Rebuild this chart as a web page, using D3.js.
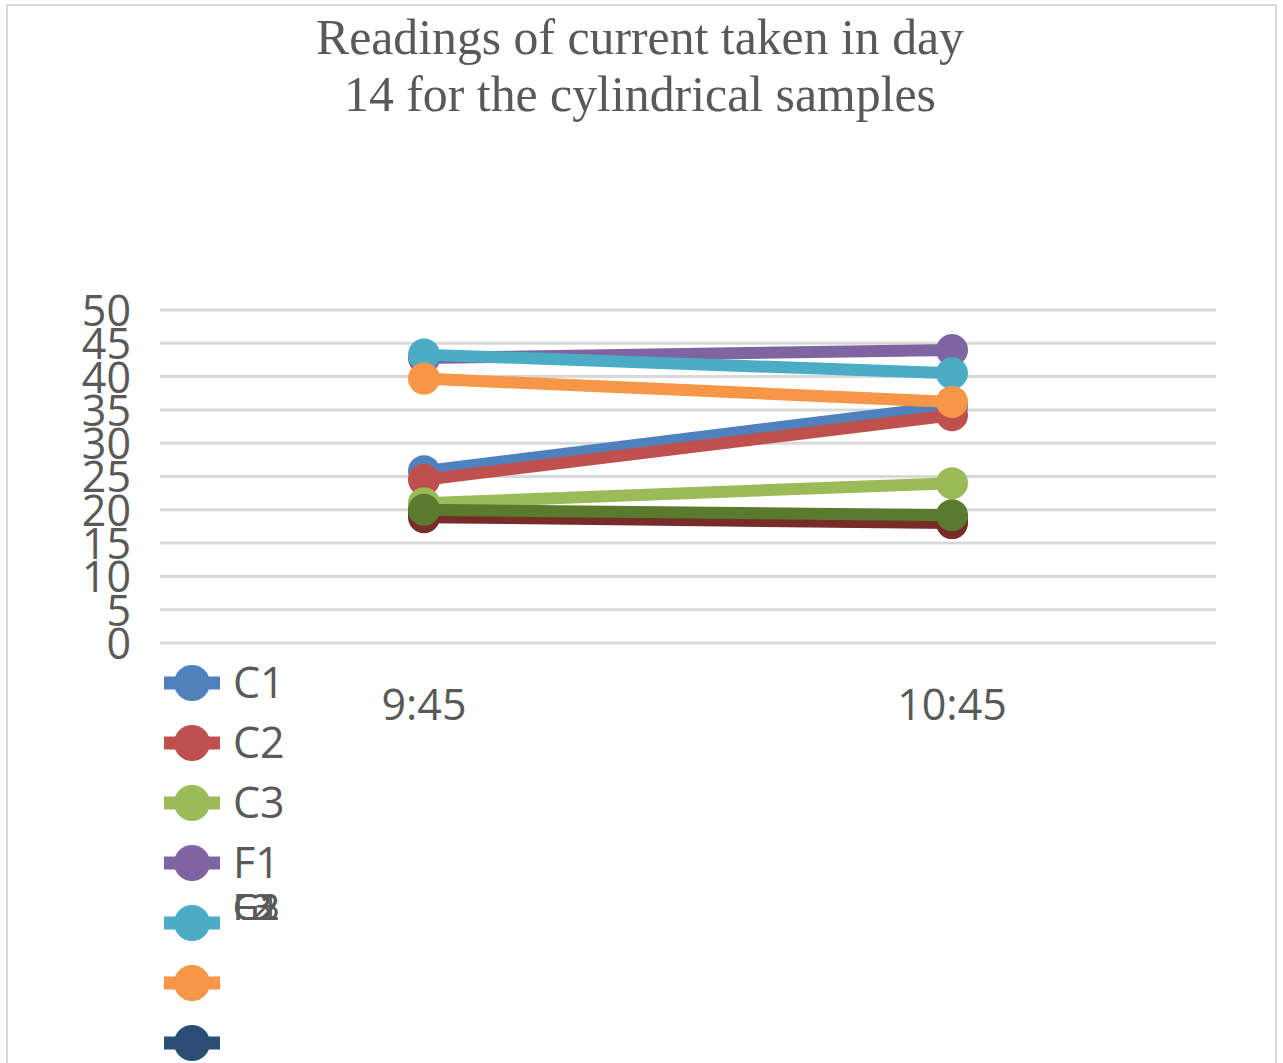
<!DOCTYPE html>
<html>
<head>
<meta charset="utf-8">
<script src="https://cdn.jsdelivr.net/npm/d3@7"></script>
<style>
  body { margin: 0; background: #fff; }
  svg { display: block; }
</style>
</head>
<body>
<svg id="chart"></svg>
<script>
// readings (current) at each time
const times = ["9:45", "10:45"];
const seriesNames = ["C1", "C2", "C3", "F1", "F2", "F3", "G1", "G2", "G3"];
const C1 = [25.8, 35.6];
const C2 = [24.5, 34.2];
const C3 = [21.0, 24.0];
const F1 = [42.8, 44.0];
const F2 = [43.3, 40.5];
const F3 = [39.7, 36.2];
const G1 = [19.5, 18.8];
const G2 = [18.9, 18.0];
const G3 = [20.0, 19.2];
const yTicks = [0, 5, 10, 15, 20, 25, 30, 35, 40, 45, 50];
const titleLines = ["Readings of current taken in day", "14 for the cylindrical samples"];

const colors = ["#4f81bd", "#c0504d", "#9bbb59", "#8064a2", "#4bacc6", "#f79646", "#2c4d75", "#772c2a", "#5a7a2e"];
const values = [C1, C2, C3, F1, F2, F3, G1, G2, G3];

const width = 1283, height = 1063;
const svg = d3.select("#chart").attr("width", width).attr("height", height);

// outer frame
svg.append("rect")
  .attr("x", 7).attr("y", 5).attr("width", 1269).attr("height", 1070)
  .attr("fill", "#fff").attr("stroke", "#d9d9d9").attr("stroke-width", 2);

// title (narrow serif, squeezed to the original widths)
svg.append("g").selectAll("text")
  .data(titleLines)
  .join("text")
  .attr("x", 640)
  .attr("y", (d, i) => 54 + i * 57)
  .attr("text-anchor", "middle")
  .attr("textLength", (d, i) => i === 0 ? 648 : 592)
  .attr("lengthAdjust", "spacingAndGlyphs")
  .style("font-family", "'Liberation Serif', 'Times New Roman', serif")
  .style("font-size", "51px")
  .style("fill", "#595959")
  .text(d => d);

const x = d3.scaleBand().domain(times).range([160, 1216]);
const y = d3.scaleLinear().domain([0, 50]).range([643, 310]);
const cx = t => x(t) + x.bandwidth() / 2;

// gridlines
svg.append("g").selectAll("line")
  .data(yTicks)
  .join("line")
  .attr("x1", 160).attr("x2", 1216)
  .attr("y1", d => y(d)).attr("y2", d => y(d))
  .attr("stroke", "#d9d9d9").attr("stroke-width", 3);

// y axis labels
const yAxis = svg.append("g")
  .attr("transform", "translate(131,0)")
  .call(d3.axisLeft(y).tickValues(yTicks).tickSize(0).tickPadding(0));
yAxis.select(".domain").remove();
yAxis.selectAll("text")
  .attr("dy", "0.36em")
  .style("font-family", "'Open Sans', 'Noto Sans', sans-serif")
  .style("font-size", "43px")
  .style("fill", "#595959");

// x axis labels
const xAxis = svg.append("g")
  .attr("transform", "translate(0,705)")
  .call(d3.axisBottom(x).tickSize(0).tickPadding(0));
xAxis.select(".domain").remove();
xAxis.selectAll("text")
  .attr("dy", "0.36em")
  .style("font-family", "'Open Sans', 'Noto Sans', sans-serif")
  .style("font-size", "43px")
  .style("fill", "#595959");

// series lines + markers
const line = d3.line().x((d, i) => cx(times[i])).y(d => y(d));
const series = svg.append("g").selectAll("g")
  .data(values)
  .join("g");

series.append("path")
  .attr("d", d => line(d))
  .attr("fill", "none")
  .attr("stroke", (d, i) => colors[i])
  .attr("stroke-width", 12);

series.each(function (d, i) {
  d3.select(this).selectAll("circle")
    .data(d)
    .join("circle")
    .attr("cx", (v, j) => cx(times[j]))
    .attr("cy", v => y(v))
    .attr("r", 16)
    .attr("fill", colors[i]);
});

// legend
const legend = svg.append("g").selectAll("g")
  .data(seriesNames)
  .join("g")
  .attr("transform", (d, i) => `translate(192,${683 + i * 60})`);

legend.append("line")
  .attr("x1", -28).attr("x2", 28)
  .attr("stroke", (d, i) => colors[i])
  .attr("stroke-width", 13);

legend.append("circle")
  .attr("r", 18)
  .attr("fill", (d, i) => colors[i]);

// the last labels collapse onto one spot, as in the source picture
svg.append("g").selectAll("text")
  .data(seriesNames)
  .join("text")
  .attr("x", 233)
  .attr("y", (d, i) => i < 4 ? 683 + i * 60 : 907)
  .attr("dy", "0.36em")
  .style("font-family", "'Open Sans', 'Noto Sans', sans-serif")
  .style("font-size", (d, i) => i < 4 ? "43px" : "36px")
  .style("fill", "#595959")
  .text(d => d);
</script>
</body>
</html>
